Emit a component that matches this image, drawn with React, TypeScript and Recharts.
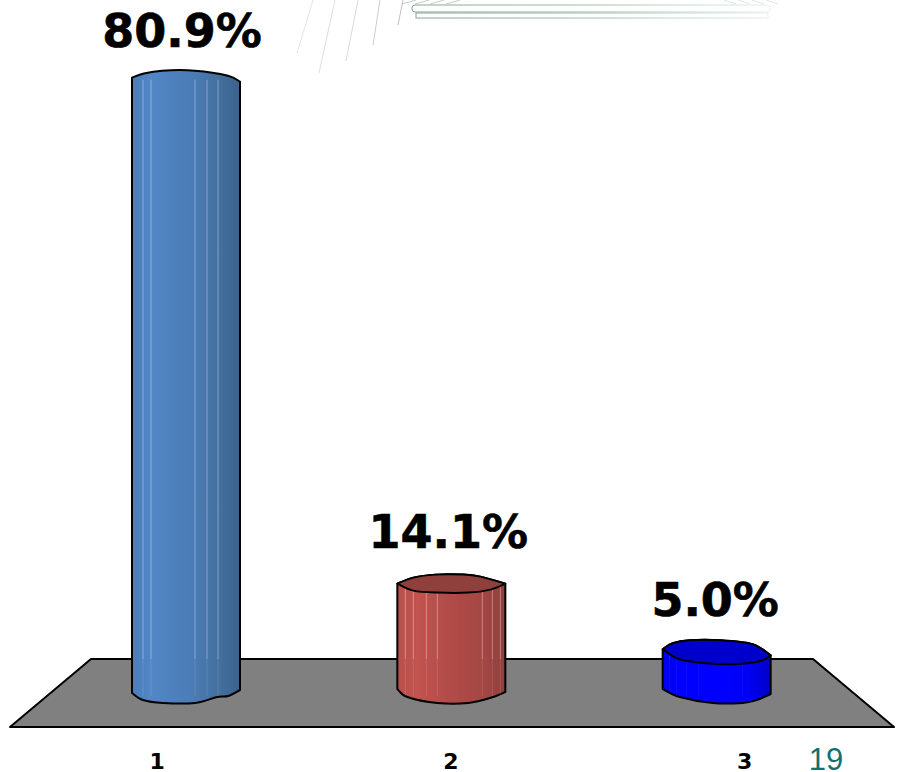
import { BarChart, Bar, XAxis, YAxis, LabelList, usePlotArea } from 'recharts'

const categories = ['1', '2', '3']
const shares = [80.9, 14.1, 5.0]
const tableData = categories.map((category, i) => ({ category, share: shares[i] }))

type Pt = [number, number]

// hand-drawn looking cylinder outlines, offsets from the bar's corners
const topEdges: Pt[][] = [
  [[0, -2], [11, -6], [30, -9], [63, -9], [96, -4], [108, 2]],
  [[0, 0], [16, -6], [38, -9], [66, -9], [83, -7], [108, 0]],
  [[0, -3], [10, -9], [27, -12], [57, -12], [90, -8], [108, 3]],
]
const capFronts: (Pt[] | null)[] = [
  null,
  [[0, 0], [16, 7], [40, 9], [71, 9], [93, 6], [108, 0]],
  [[0, -3], [17, 7], [44, 11], [70, 12], [97, 9], [108, 3]],
]
const bottomEdges: Pt[][] = [
  [[0, 3], [11, 10], [31, 13], [63, 13], [85, 7], [96, 6], [108, 0]],
  [[0, -1], [10, 7], [40, 13], [71, 13], [96, 7], [108, 2]],
  [[0, -1], [17, 7], [50, 13], [80, 13], [94, 10], [108, 4]],
]
const facetLines = [
  [11, 19, 63, 75, 86],
  [8, 16, 29, 40, 85, 95, 103],
  [7, 14, 24, 36, 80],
]
const bodyStops = [
  ['#4a7dba', '#5286c5', '#4b7cb6', '#44709f', '#3b618c'],
  ['#bb4f4c', '#c2534f', '#ae4a47', '#a34744', '#8f3f3d'],
  ['#0000f0', '#0000ff', '#0000ff', '#0000f5', '#0000c4'],
]
const capColors = [null, '#8f3f3c', '#0000cd']
const lineOpacity = [0.35, 0.35, 0.15]
const labelNudge: Pt[] = [[-4, -33], [-3, -36], [-1.5, -36]]

const smooth = (pts: Pt[], move = true) => {
  let d = move ? `M${pts[0][0]},${pts[0][1]}` : `L${pts[0][0]},${pts[0][1]}`
  for (let i = 0; i < pts.length - 1; i++) {
    const p0 = pts[Math.max(i - 1, 0)]
    const p1 = pts[i]
    const p2 = pts[i + 1]
    const p3 = pts[Math.min(i + 2, pts.length - 1)]
    const c1x = p1[0] + (p2[0] - p0[0]) / 6
    const c1y = p1[1] + (p2[1] - p0[1]) / 6
    const c2x = p2[0] - (p3[0] - p1[0]) / 6
    const c2y = p2[1] - (p3[1] - p1[1]) / 6
    d += ` C${c1x},${c1y} ${c2x},${c2y} ${p2[0]},${p2[1]}`
  }
  return d
}

function Cylinder(props: any) {
  const { x, y, height, index } = props
  const bottom = y + height
  const shift = (pts: Pt[], oy: number): Pt[] => pts.map(([a, b]) => [x + a, oy + b])
  const top = shift(topEdges[index], y)
  const base = shift(bottomEdges[index], bottom)
  const front = capFronts[index] ? shift(capFronts[index] as Pt[], y) : null
  const body = `${smooth(top)} ${smooth([...base].reverse(), false)} Z`
  const gradId = `cyl-${index}`
  const floorLine = bottom - 31
  return (
    <g>
      <defs>
        <linearGradient id={gradId} x1="0" y1="0" x2="1" y2="0">
          {bodyStops[index].map((c, i) => (
            <stop key={i} offset={[0, 0.18, 0.55, 0.8, 1][i]} stopColor={c} />
          ))}
        </linearGradient>
      </defs>
      <path d={body} fill={`url(#${gradId})`} stroke="#000" strokeWidth={2} strokeLinejoin="round" />
      {facetLines[index].map((dx) => (
        <g key={dx}>
          <line x1={x + dx} x2={x + dx} y1={y} y2={floorLine} stroke="#fff" strokeOpacity={lineOpacity[index]} strokeWidth={1} />
          <line x1={x + dx} x2={x + dx} y1={floorLine} y2={bottom + 6} stroke="#fff" strokeOpacity={lineOpacity[index] / 3} strokeWidth={1} />
        </g>
      ))}
      {front && (
        <path
          d={`${smooth(top)} ${smooth([...front].reverse(), false)} Z`}
          fill={capColors[index] as string}
          stroke="#000"
          strokeWidth={2}
          strokeLinejoin="round"
        />
      )}
    </g>
  )
}

// perspective floor under the bars, front edge is wider than the back edge
function Floor() {
  const plot = usePlotArea()
  if (!plot) return null
  const back = plot.y + plot.height - 31
  const front = plot.y + plot.height + 37
  const left = plot.x
  const right = plot.x + plot.width
  return (
    <path
      d={`M${left + 38},${back} L${right - 36},${back} L${right + 45},${front} L${left - 43},${front} Z`}
      fill="#808080"
      stroke="#000"
      strokeWidth={2}
      strokeLinejoin="round"
    />
  )
}

// faded slide decoration along the top edge
function SlideDecor() {
  const rays: [number, number, number, number, number][] = [
    [313, 0, 297, 53, 0.25],
    [335, 0, 319, 73, 0.3],
    [358, 0, 346, 61, 0.35],
    [380, 0, 373, 45, 0.45],
    [403, 0, 398, 25, 0.55],
  ]
  const hatch = [408, 421, 436, 452, 724, 738, 752, 766]
  return (
    <g>
      <defs>
        <linearGradient id="decor-fade" x1="0" y1="0" x2="1" y2="0">
          <stop offset="0" stopColor="#7fa88f" />
          <stop offset="0.5" stopColor="#9dbfac" />
          <stop offset="1" stopColor="#e6f0ec" />
        </linearGradient>
      </defs>
      {rays.map(([a, b, c, d, o]) => (
        <line key={a} x1={a} y1={b} x2={c} y2={d} stroke="#8a9490" strokeOpacity={o} strokeWidth={1} />
      ))}
      {hatch.map((hx, i) => (
        <line
          key={hx}
          x1={hx + (i < 4 ? 8 : 0)}
          y1={0}
          x2={hx + (i < 4 ? -6 : 12)}
          y2={4}
          stroke="#a9b8b0"
          strokeOpacity={i < 4 ? 0.7 : 0.35}
          strokeWidth={1}
        />
      ))}
      <rect x={412} y={5} width={358} height={7} rx={3} fill="#fff" stroke="url(#decor-fade)" strokeWidth={1} />
      <rect x={416} y={13} width={352} height={5} fill="#fff" stroke="url(#decor-fade)" strokeWidth={1} />
    </g>
  )
}

function SpreadTick(props: any) {
  const { x, y, payload } = props
  // the labels sit on the floor's front edge, so they spread wider than the bars
  const mid = 451
  return (
    <text
      x={mid + (x - mid) * 1.107}
      y={y + 71}
      textAnchor="middle"
      fontFamily="'DejaVu Sans'"
      fontWeight="bold"
      fontSize={22}
      fill="#000"
    >
      {payload.value}
    </text>
  )
}

function ShareLabel(props: any) {
  const { x, y, width, value, index } = props
  const [dx, dy] = labelNudge[index]
  return (
    <text
      x={x + width / 2 + dx}
      y={y + dy}
      textAnchor="middle"
      fontFamily="'DejaVu Sans'"
      fontWeight="bold"
      fontSize={46}
      fill="#000"
      stroke="#000"
      strokeWidth={0.6}
    >
      {`${Number(value).toFixed(1)}%`}
    </text>
  )
}

export default function App() {
  return (
    <div style={{ position: 'absolute', left: 0, top: 0, width: 901, height: 772, background: '#fff' }}>
      <BarChart
        width={901}
        height={772}
        data={tableData}
        margin={{ top: 11, right: 52, bottom: 0, left: 53 }}
      >
        <SlideDecor />
        <Floor />
        <XAxis dataKey="category" height={82} axisLine={false} tickLine={false} interval={0} tick={<SpreadTick />} />
        <YAxis hide domain={[0, 90]} />
        <Bar dataKey="share" barSize={108} shape={<Cylinder />} isAnimationActive={false}>
          <LabelList dataKey="share" content={<ShareLabel />} />
        </Bar>
        <text x={826} y={770} textAnchor="middle" fontFamily="'Liberation Sans'" fontSize={31} fill="#0e7272">
          19
        </text>
      </BarChart>
    </div>
  )
}
